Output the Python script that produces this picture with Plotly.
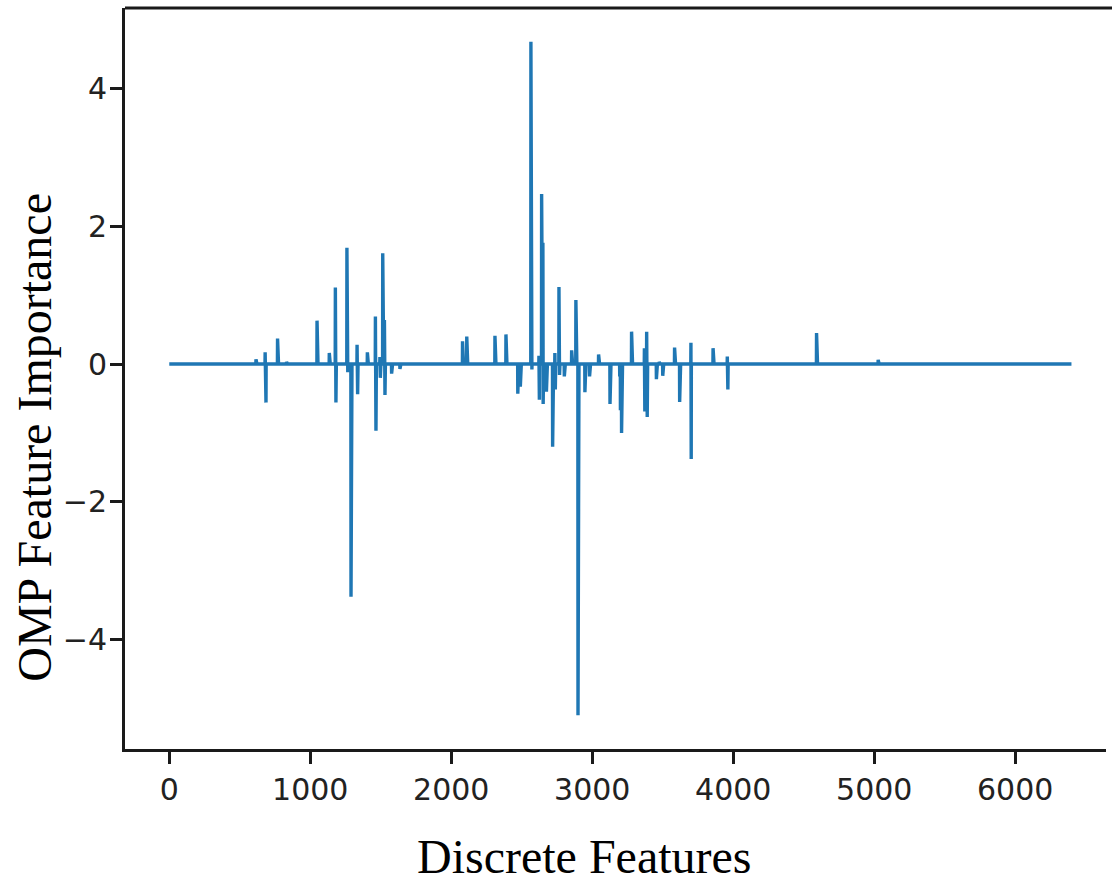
import numpy as np
import plotly.graph_objects as go

# ---- data ----
n_features = 6400
spike_index = [615, 680, 686, 768, 832, 1048, 1135, 1178, 1182, 1260, 1266, 1289,
               1332, 1336, 1405, 1462, 1466, 1494, 1497, 1514, 1526, 1530, 1577, 1636,
               2080, 2110, 2310, 2388, 2472, 2490, 2565, 2572, 2622, 2625, 2641, 2650,
               2652, 2675, 2719, 2735, 2738, 2764, 2768, 2802, 2854, 2884, 2899, 2948,
               2981, 3045, 3126, 3195, 3200, 3208, 3279, 3370, 3373, 3386, 3390, 3455,
               3475, 3500, 3584, 3620, 3700, 3702, 3857, 3958, 3962, 4591, 5028]
spike_value = [0.07, 0.17, -0.56, 0.37, 0.03, 0.63, 0.16, 1.11, -0.56, 1.69, -0.12, -3.38,
               0.28, -0.44, 0.17, 0.69, -0.97, 0.10, -0.20, 1.61, 0.64, -0.45, -0.14, -0.07,
               0.33, 0.40, 0.41, 0.43, -0.43, -0.33, 4.68, -0.08, 0.12, -0.52, 2.47, 1.76,
               -0.58, -0.40, -1.20, 0.16, -0.37, 1.12, -0.16, -0.18, 0.20, 0.93, -5.10, -0.41,
               -0.18, 0.14, -0.58, -0.18, -0.67, -1.00, 0.47, 0.23, -0.69, 0.47, -0.77, -0.22,
               0.03, -0.17, 0.24, -0.55, 0.31, -1.38, 0.23, 0.11, -0.37, 0.45, 0.06]
x_ticks = [0, 1000, 2000, 3000, 4000, 5000, 6000]
y_ticks = [-4, -2, 0, 2, 4]
x_title = "Discrete Features"
y_title = "OMP Feature Importance"

importance = np.zeros(n_features)
importance[spike_index] = spike_value
features = np.arange(n_features)

fig = go.Figure()
fig.add_trace(go.Scatter(x=features, y=importance, mode="lines",
                         line=dict(color="#1f77b4", width=3.4), showlegend=False))

axis_common = dict(showgrid=False, zeroline=False, showline=True, linecolor="#1a1a1a",
                   linewidth=3, ticks="outside", ticklen=12, tickwidth=2.5, tickcolor="#1a1a1a",
                   mirror=False,
                   tickfont=dict(family="DejaVu Sans", size=30, color="#222222"))
# plot area spans x pixels 125..1106; 0.1410 px per feature, 0 at pixel 169.3
fig.update_xaxes(range=[-314, 6644], tickvals=x_ticks, **axis_common)
fig.update_yaxes(range=[-5.59, 5.17], tickvals=y_ticks, ticklabelstandoff=-3, **axis_common)

# top frame line, running to the edge of the picture (right frame lies outside it)
fig.add_shape(type="line", xref="paper", yref="paper", x0=0, x1=990 / 981, y0=1, y1=1,
              line=dict(color="#1a1a1a", width=3))

fig.add_annotation(text=x_title, xref="paper", yref="paper", x=(584 - 125) / 981, y=-0.145,
                   xanchor="center", yanchor="middle", showarrow=False,
                   font=dict(family="Liberation Serif", size=48, color="black"))
fig.add_annotation(text=y_title, xref="paper", yref="paper", x=-0.093, y=(749 - 437) / 741,
                   xanchor="center", yanchor="middle", textangle=-90, showarrow=False,
                   font=dict(family="Liberation Serif", size=48, color="black"))

fig.update_layout(width=1112, height=882, margin=dict(l=125, r=6, t=8, b=133),
                  plot_bgcolor="white", paper_bgcolor="white")
fig.write_html("out.html")
